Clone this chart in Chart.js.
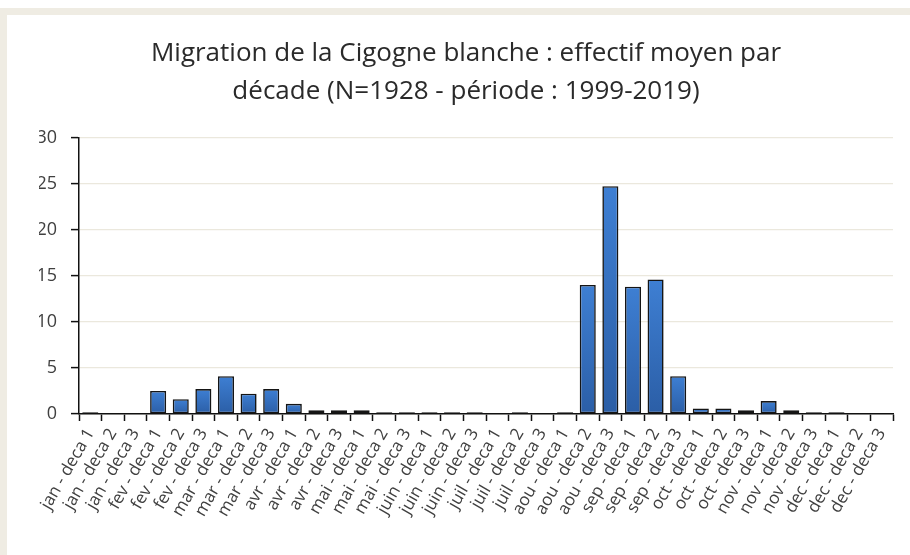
<!DOCTYPE html>
<html>
<head>
<meta charset="utf-8">
<script src="https://cdn.jsdelivr.net/npm/chart.js@4/dist/chart.umd.min.js"></script>
<style>
  html, body { margin: 0; padding: 0; background: #fff; overflow: hidden; }
  #cadre { position: absolute; left: 0; top: 8px; width: 910px; height: 547px; background: #efece3; }
  #fond { position: absolute; left: 7px; top: 15px; width: 903px; height: 540px; background: #fff; }
  #box { position: absolute; left: 0; top: 0; width: 910px; height: 555px; }
</style>
</head>
<body>
<div id="cadre"></div>
<div id="fond"></div>
<div id="box"><canvas id="graficoCigogne"></canvas></div>
<script>
// catégories : 3 décades par mois
const mois = ['jan', 'fev', 'mar', 'avr', 'mai', 'juin', 'juil', 'aou', 'sep', 'oct', 'nov', 'dec'];
const decades = ['deca 1', 'deca 2', 'deca 3'];
const categories = [];
mois.forEach(m => decades.forEach(d => categories.push(m + ' - ' + d)));

// effectif moyen par décade
const effectifs = [
  0.2, 0, 0,
  2.5, 1.6, 2.7,
  4.1, 2.2, 2.7,
  1.1, 0.4, 0.4,
  0.4, 0.2, 0.2,
  0.2, 0.2, 0.2,
  0, 0.2, 0,
  0.2, 14.0, 24.7,
  13.8, 14.6, 4.1,
  0.6, 0.6, 0.4,
  1.4, 0.4, 0.2,
  0.2, 0, 0
];

const yTicks = [0, 5, 10, 15, 20, 25, 30];

const titre = ['Migration de la Cigogne blanche : effectif moyen par', 'décade (N=1928 - période : 1999-2019)'];

const police = '"Open Sans", Lato, sans-serif';

// dégradé vertical pour chaque barre (clair en haut, foncé en bas)
function degrade(context) {
  const chart = context.chart;
  const yScale = chart.scales.y;
  if (!yScale || context.parsed == null) return '#3570c0';
  const haut = yScale.getPixelForValue(context.parsed.y);
  const bas = yScale.getPixelForValue(0);
  if (!(bas > haut)) return '#3570c0';
  const g = chart.ctx.createLinearGradient(0, haut, 0, bas);
  g.addColorStop(0, '#3e7fd3');
  g.addColorStop(1, '#2b5ea6');
  return g;
}

new Chart(document.getElementById('graficoCigogne'), {
  type: 'bar',
  data: {
    labels: categories,
    datasets: [{
      label: 'Effectif moyen',
      data: effectifs,
      backgroundColor: degrade,
      borderColor: '#151515',
      borderWidth: 1.6,
      borderSkipped: false,
      barPercentage: 0.71,
      categoryPercentage: 1.0
    }]
  },
  options: {
    responsive: true,
    maintainAspectRatio: false,
    animation: false,
    layout: { padding: { left: 39, right: 17, top: 0, bottom: 0 } },
    plugins: {
      legend: { display: false },
      tooltip: { enabled: false },
      title: {
        display: true,
        text: titre,
        color: '#2a2a2a',
        font: { family: police, size: 26, weight: 'normal', lineHeight: 1.45 },
        padding: { top: 35, bottom: 27 }
      }
    },
    scales: {
      x: {
        grid: {
          display: true,
          drawOnChartArea: false,
          drawTicks: true,
          tickLength: 7,
          tickColor: '#111',
          tickWidth: 1.5,
          offset: true
        },
        border: { display: true, color: '#111', width: 1.5 },
        ticks: {
          color: '#404040',
          font: { family: police, size: 17 },
          minRotation: 60,
          maxRotation: 60,
          autoSkip: false,
          padding: 4
        },
        afterFit: scale => { scale.height = 141; }
      },
      y: {
        min: 0,
        max: 30,
        afterBuildTicks: scale => { scale.ticks = yTicks.map(v => ({ value: v })); },
        grid: {
          color: '#ebe8dd',
          lineWidth: 1.2,
          drawTicks: true,
          tickLength: 8,
          tickColor: '#111',
          tickWidth: 1.5
        },
        border: { display: true, color: '#111', width: 1.5 },
        ticks: {
          color: '#404040',
          font: { family: police, size: 18 },
          padding: 14
        },
        afterFit: scale => { scale.width = 40; }
      }
    }
  }
});
</script>
</body>
</html>
